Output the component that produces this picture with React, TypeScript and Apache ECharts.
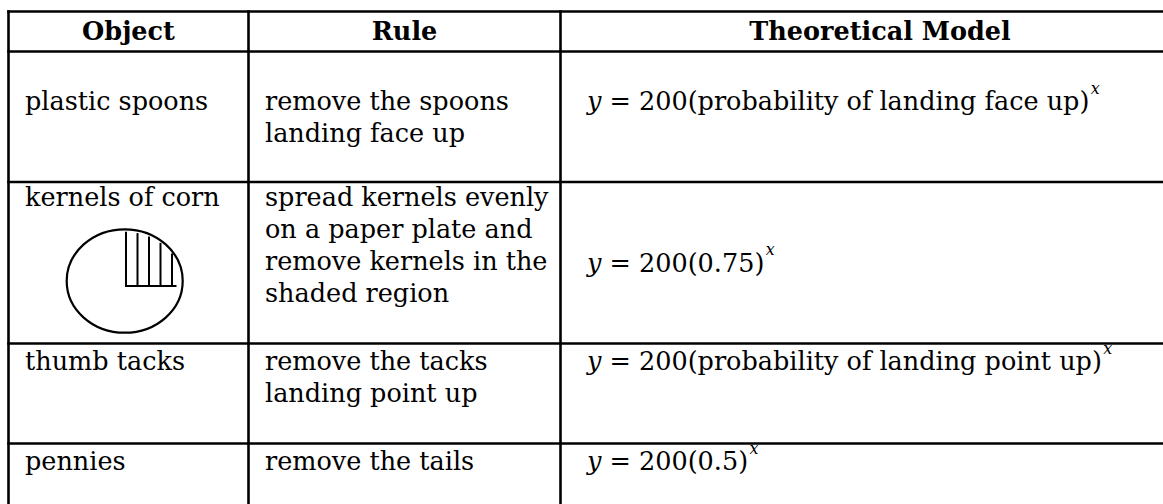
import React, { useEffect, useRef } from "react";
import * as echarts from "echarts";

// ---- table content ----
const headers = ["Object", "Rule", "Theoretical Model"];
const objects = ["plastic spoons", "kernels of corn", "thumb tacks", "pennies"];
const rules = [
  ["remove the spoons", "landing face up"],
  ["spread kernels evenly", "on a paper plate and", "remove kernels in the", "shaded region"],
  ["remove the tacks", "landing point up"],
  ["remove the tails"],
];
const modelVar = "y";
const modelBodies = [
  " = 200(probability of landing face up)",
  " = 200(0.75)",
  " = 200(probability of landing point up)",
  " = 200(0.5)",
];
const modelExponent = "x";

// ---- layout ----
const W = 1163;
const H = 504;
const colX = [8.5, 248.5, 560.5];
const rowY = [11.5, 51.5, 182, 343.5, 443.5];
const headerBaseline = 40;
const textBaseline = [110, 206, 370, 470];
const modelBaseline = [110, 271.5, 370, 470];
const lineGap = 32;
const FAMILY = '"DejaVu Serif", serif';
const FS = 25.5;
const SUP_FS = 16;
const LW = 2.6;
const CENTRAL = 0.346;

function measure(text: string, font: string): number {
  const c = document.createElement("canvas").getContext("2d");
  if (!c) return text.length * FS * 0.55;
  c.font = font;
  return c.measureText(text).width;
}

function textEl(x: number, baseline: number, text: string, opts: any = {}) {
  const fs = opts.fontSize || FS;
  return {
    type: "text",
    x,
    y: baseline - CENTRAL * fs,
    silent: true,
    style: {
      text,
      fontFamily: FAMILY,
      fontSize: fs,
      fontWeight: opts.fontWeight || "normal",
      fontStyle: opts.fontStyle || "normal",
      fill: "#000",
      align: opts.align || "left",
      verticalAlign: "middle",
    },
  };
}

function lineEl(x1: number, y1: number, x2: number, y2: number, lw = LW) {
  return {
    type: "line",
    silent: true,
    shape: { x1, y1, x2, y2 },
    style: { stroke: "#000", lineWidth: lw, lineCap: "square" },
  };
}

function buildGraphics() {
  const els: any[] = [];
  // grid lines
  rowY.forEach((y) => els.push(lineEl(colX[0], y, W + 5, y)));
  colX.forEach((x) => els.push(lineEl(x, rowY[0], x, H + 5)));

  // headers
  const headerCenters = [128.5, 404.5, 880];
  headers.forEach((h, i) =>
    els.push(textEl(headerCenters[i], headerBaseline, h, { fontWeight: "bold", align: "center" }))
  );

  // body rows
  const objX = 25;
  const ruleX = 265;
  const modelX = 587;
  objects.forEach((o, i) => {
    els.push(textEl(objX, textBaseline[i], o));
    rules[i].forEach((r, j) => els.push(textEl(ruleX, textBaseline[i] + j * lineGap, r)));
    const b = modelBaseline[i];
    const wVar = measure(modelVar, `italic ${FS}px ${FAMILY}`);
    const wBody = measure(modelBodies[i], `${FS}px ${FAMILY}`);
    els.push(textEl(modelX, b, modelVar, { fontStyle: "italic" }));
    els.push(textEl(modelX + wVar, b, modelBodies[i]));
    els.push(
      textEl(modelX + wVar + wBody + 1.5, b - 16, modelExponent, {
        fontStyle: "italic",
        fontSize: SUP_FS,
      })
    );
  });

  // paper plate drawing
  const cx = 124.7;
  const cy = 281;
  const rx = 58;
  const ry = 51.7;
  els.push({
    type: "ellipse",
    silent: true,
    shape: { cx, cy, rx, ry },
    style: { fill: "none", stroke: "#000", lineWidth: 2.2 },
  });
  const hatchY = 286;
  const hatchXs = [126, 137.5, 149, 160.5, 172];
  hatchXs.forEach((x) => {
    const dx = (x - cx) / rx;
    const top = cy - ry * Math.sqrt(Math.max(0, 1 - dx * dx)) + 2.5;
    els.push({
      type: "line",
      silent: true,
      shape: { x1: x, y1: top, x2: x, y2: hatchY },
      style: { stroke: "#000", lineWidth: 2, lineCap: "butt" },
    });
  });
  els.push({
    type: "line",
    silent: true,
    shape: { x1: 125, y1: hatchY, x2: 176.5, y2: hatchY },
    style: { stroke: "#000", lineWidth: 2, lineCap: "butt" },
  });
  return els;
}

export default function App() {
  const ref = useRef<HTMLDivElement>(null);
  useEffect(() => {
    if (!ref.current) return;
    const chart = echarts.init(ref.current, undefined, { renderer: "svg" });
    chart.setOption({
      animation: false,
      backgroundColor: "#fff",
      graphic: { elements: buildGraphics() },
    });
    return () => chart.dispose();
  }, []);
  return (
    <div
      ref={ref}
      style={{ position: "fixed", left: 0, top: 0, width: W, height: H, background: "#fff" }}
    />
  );
}
